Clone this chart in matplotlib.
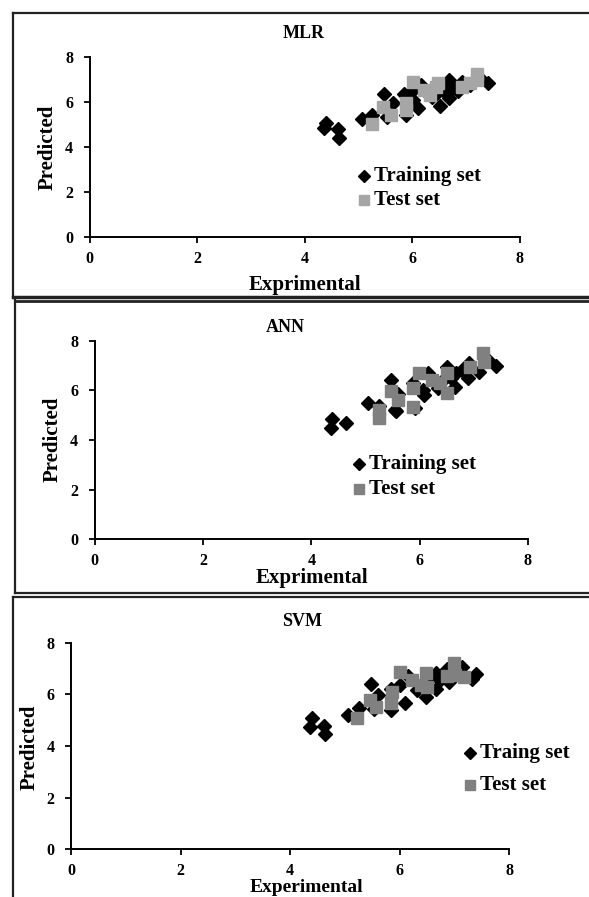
import matplotlib
matplotlib.use('Agg')
import matplotlib.pyplot as plt
from matplotlib.lines import Line2D

plt.rcParams['font.family'] = ['Liberation Serif', 'DejaVu Serif']
plt.rcParams['font.weight'] = 'bold'

# MLR
mlr_train_exp = [4.36, 4.40, 4.62, 4.64, 5.06, 5.25, 5.48, 5.53, 5.64, 5.85, 5.88, 6.02, 6.02,
                 6.11, 6.16, 6.25, 6.37, 6.45, 6.52, 6.58, 6.62, 6.69, 6.69, 6.72, 6.79, 6.85,
                 6.93, 7.07, 7.24, 7.42]
mlr_train_pred = [4.84, 5.07, 4.80, 4.43, 5.24, 5.44, 6.36, 5.36, 5.99, 6.36, 5.44, 6.55, 6.10,
                  5.73, 6.77, 6.45, 6.25, 6.35, 5.84, 6.55, 6.80, 6.99, 6.18, 6.60, 6.62, 6.50,
                  6.92, 6.77, 7.14, 6.87]
mlr_test_exp = [5.25, 5.46, 5.60, 5.88, 5.88, 6.01, 6.23, 6.34, 6.44, 6.48, 6.93, 7.07, 7.20, 7.21]
mlr_test_pred = [5.04, 5.81, 5.44, 5.96, 5.66, 6.92, 6.55, 6.33, 6.67, 6.84, 6.70, 6.84, 7.26, 6.99]

# ANN
ann_train_exp = [4.36, 4.39, 4.64, 5.05, 5.26, 5.47, 5.54, 5.57, 5.61, 5.88, 5.92, 6.06, 6.09,
                 6.16, 6.34, 6.44, 6.51, 6.58, 6.65, 6.68, 6.79, 6.89, 6.91, 7.10, 7.27, 7.41]
ann_train_pred = [4.47, 4.84, 4.67, 5.51, 5.37, 6.42, 5.21, 5.17, 5.85, 6.29, 5.28, 6.02, 5.82,
                  6.72, 6.09, 6.42, 6.96, 6.49, 6.15, 6.69, 6.83, 6.49, 7.10, 6.76, 7.23, 7.00]
ann_test_exp = [5.25, 5.25, 5.47, 5.61, 5.88, 5.88, 5.99, 6.23, 6.37, 6.50, 6.51, 6.93, 7.17, 7.20]
ann_test_pred = [4.88, 5.21, 5.99, 5.62, 6.09, 5.35, 6.69, 6.42, 6.29, 6.72, 5.89, 6.96, 7.53, 7.16]

# SVM
svm_train_exp = [4.36, 4.40, 4.62, 4.64, 5.05, 5.25, 5.48, 5.53, 5.61, 5.84, 5.84, 6.01, 6.10,
                 6.15, 6.32, 6.49, 6.52, 6.66, 6.66, 6.73, 6.87, 6.90, 7.14, 7.33, 7.40]
svm_train_pred = [4.75, 5.07, 4.77, 4.46, 5.20, 5.46, 6.40, 5.42, 5.97, 6.19, 5.39, 6.36, 5.68,
                  6.71, 6.17, 5.91, 6.55, 6.84, 6.19, 6.55, 6.97, 6.49, 7.07, 6.58, 6.79]
svm_test_exp = [5.23, 5.46, 5.56, 5.84, 5.87, 6.00, 6.22, 6.39, 6.49, 6.51, 6.87, 6.99, 7.01, 7.18]
svm_test_pred = [5.07, 5.78, 5.52, 5.65, 6.10, 6.88, 6.55, 6.36, 6.81, 6.30, 6.71, 7.23, 6.75, 6.68]

ticks = [0, 2, 4, 6, 8]

W, H = 589, 897
fig = plt.figure(figsize=(W / 100, H / 100), dpi=100)


def fx(px):
    return px / W


def fy(py):
    return 1 - py / H


def panel(box, title, title_xy, xlabel, xlabel_xy, xlabel_size, ylabel_xy,
          tr_x, tr_y, te_x, te_y, test_color, labels, leg_xy, leg_gap):
    l, r, t, b = box
    ax = fig.add_axes([fx(l), fy(b), fx(r - l), fy(t) - fy(b)])
    ax.plot(tr_x, tr_y, 'D', color='black', markersize=7, linestyle='none', zorder=3,
            clip_on=False)
    ax.plot(te_x, te_y, 's', color=test_color, markersize=8, linestyle='none', zorder=4,
            clip_on=False)
    ax.set_xlim(0, 8)
    ax.set_ylim(0, 8)
    ax.set_xticks(ticks)
    ax.set_yticks(ticks)
    ax.tick_params(direction='out', length=4, width=1.3, labelsize=11.5)
    ax.tick_params(axis='y', pad=8)
    ax.tick_params(axis='x', pad=6)
    for s in ['top', 'right']:
        ax.spines[s].set_visible(False)
    for s in ['left', 'bottom']:
        ax.spines[s].set_linewidth(1.4)

    fig.text(fx(title_xy[0]), fy(title_xy[1]), title, ha='center', va='center',
             fontsize=13, fontweight='bold')
    fig.text(fx(xlabel_xy[0]), fy(xlabel_xy[1]), xlabel, ha='center', va='center',
             fontsize=xlabel_size, fontweight='bold')
    fig.text(fx(ylabel_xy[0]), fy(ylabel_xy[1]), 'Predicted', ha='center', va='center',
             fontsize=15, fontweight='bold', rotation=90)

    # legend, drawn by hand
    mx, ty = leg_xy
    fig.add_artist(Line2D([fx(mx)], [fy(ty)], marker='D', color='black', markersize=6.5,
                          linestyle='none'))
    fig.add_artist(Line2D([fx(mx)], [fy(ty + leg_gap)], marker='s', color=test_color,
                          markersize=7.5, linestyle='none'))
    fig.text(fx(mx + 10), fy(ty), labels[0], ha='left', va='center', fontsize=15,
             fontweight='bold')
    fig.text(fx(mx + 10), fy(ty + leg_gap), labels[1], ha='left', va='center', fontsize=15,
             fontweight='bold')
    return ax


panel((89.8, 519.5, 57.3, 237.3), 'MLR', (304, 33), 'Exprimental', (305, 285), 15, (48, 147),
      mlr_train_exp, mlr_train_pred, mlr_test_exp, mlr_test_pred, '#a6a6a6',
      ['Training set', 'Test set'], (364, 176), 24)

panel((94.7, 527.8, 341, 539), 'ANN', (285, 327), 'Exprimental', (312, 578), 15, (52.6, 439),
      ann_train_exp, ann_train_pred, ann_test_exp, ann_test_pred, '#808080',
      ['Training set', 'Test set'], (359, 464), 25)

panel((71.4, 509, 642.7, 849.3), 'SVM', (302, 622), 'Experimental', (306, 887), 14, (30, 747),
      svm_train_exp, svm_train_pred, svm_test_exp, svm_test_pred, '#808080',
      ['Traing set', 'Test set'], (470, 753), 32)


# frame lines round the panels
def seg(x0, y0, x1, y1, lw=1.6):
    fig.add_artist(Line2D([fx(x0), fx(x1)], [fy(y0), fy(y1)], color='#222222', linewidth=lw))


seg(13, 13, 589, 13)
seg(13, 13, 13, 297)
seg(13, 297, 589, 297, 2.5)
seg(15, 300.5, 589, 300.5, 2.0)
seg(15, 300, 15, 593)
seg(15, 593, 589, 593)
seg(13, 597, 589, 597)
seg(13, 597, 13, 897)

fig.savefig('out.png', dpi=100)
